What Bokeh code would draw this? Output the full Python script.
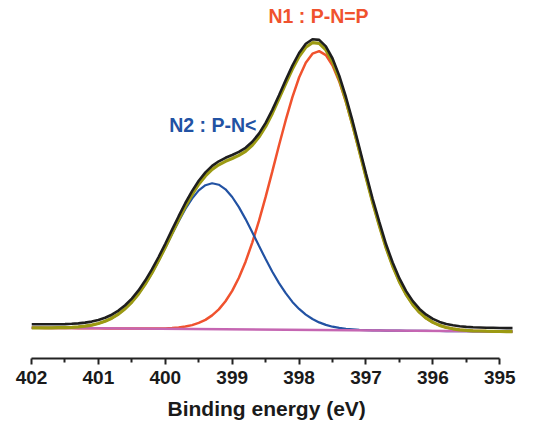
from bokeh.plotting import figure
from bokeh.models import Range1d, FixedTicker, Title
from bokeh.core.properties import value
from bokeh.embed import file_html
from bokeh.resources import INLINE

# Binding energy grid (eV)
energy = [402.0, 401.9, 401.8, 401.7, 401.6, 401.5, 401.4, 401.3, 401.2, 401.1,
          401.0, 400.9, 400.8, 400.7, 400.6, 400.5, 400.4, 400.3, 400.2, 400.1,
          400.0, 399.9, 399.8, 399.7, 399.6, 399.5, 399.4, 399.3, 399.2, 399.1,
          399.0, 398.9, 398.8, 398.7, 398.6, 398.5, 398.4, 398.3, 398.2, 398.1,
          398.0, 397.9, 397.8, 397.7, 397.6, 397.5, 397.4, 397.3, 397.2, 397.1,
          397.0, 396.9, 396.8, 396.7, 396.6, 396.5, 396.4, 396.3, 396.2, 396.1,
          396.0, 395.9, 395.8, 395.7, 395.6, 395.5, 395.4, 395.3, 395.2, 395.1,
          395.0, 394.9, 394.8]

# Measured spectrum (black)
measured = [34.2, 34.2, 34.2, 34.2, 34.3, 34.4, 34.7, 35.1, 35.9, 36.9,
            38.5, 40.7, 43.8, 47.9, 53.3, 59.9, 68.1, 77.9, 89.1, 101.5,
            114.7, 128.6, 142.3, 155.5, 167.4, 177.8, 186.1, 192.6, 197.2, 200.7,
            203.5, 206.6, 210.7, 216.7, 224.9, 235.6, 248.6, 263.3, 278.4, 292.9,
            305.5, 314.7, 319.3, 318.6, 312.1, 300.0, 282.9, 261.5, 237.3, 211.3,
            185.0, 159.5, 136.3, 114.2, 95.7, 80.1, 67.4, 57.4, 49.6, 43.8,
            39.6, 36.6, 34.5, 33.2, 32.2, 31.6, 31.2, 31.0, 30.8, 30.7,
            30.5, 30.4, 30.4]

# Fit envelope (olive)
envelope = [30.7, 30.7, 30.7, 30.7, 30.8, 30.9, 31.2, 31.6, 32.4, 33.4,
            35.0, 37.2, 40.3, 44.4, 49.8, 56.4, 64.6, 74.4, 85.6, 98.0,
            111.2, 125.1, 138.8, 152.0, 163.9, 174.3, 182.6, 189.1, 193.7, 197.2,
            200.0, 203.1, 207.2, 213.2, 221.4, 232.1, 245.1, 259.8, 274.9, 289.4,
            302.0, 311.2, 315.8, 315.1, 308.6, 296.5, 279.4, 258.0, 233.8, 207.8,
            181.5, 156.0, 132.8, 110.7, 92.2, 76.6, 63.9, 53.9, 46.1, 40.3,
            36.1, 33.1, 31.0, 29.7, 28.7, 28.1, 27.7, 27.5, 27.3, 27.2,
            27.0, 26.9, 26.9]

# N1 component : P-N=P (red)
n1 = [30.7, 30.7, 30.6, 30.5, 30.5, 30.4, 30.4, 30.3, 30.3, 30.2,
      30.2, 30.1, 30.1, 30.0, 30.0, 29.9, 29.9, 29.9, 30.0, 30.0,
      30.1, 30.5, 31.0, 32.0, 33.4, 35.6, 38.6, 43.1, 49.1, 57.2,
      67.6, 80.8, 96.8, 115.9, 137.6, 161.6, 187.1, 213.2, 238.3, 261.4,
      281.0, 295.8, 304.8, 307.4, 303.4, 293.0, 277.1, 256.6, 232.9, 207.3,
      181.2, 155.8, 132.7, 110.7, 92.2, 76.6, 63.9, 53.9, 46.1, 40.3,
      36.1, 33.1, 31.0, 29.7, 28.7, 28.1, 27.7, 27.5, 27.3, 27.2,
      27.0, 26.9, 26.9]

# N2 component : P-N< (blue)
n2 = [30.7, 30.7, 30.7, 30.7, 30.8, 30.9, 31.2, 31.6, 32.4, 33.4,
      35.0, 37.2, 40.3, 44.4, 49.8, 56.4, 64.6, 74.3, 85.4, 97.7,
      110.7, 124.2, 137.3, 149.5, 159.9, 168.1, 173.3, 175.3, 173.8, 169.2,
      161.5, 151.4, 139.4, 126.3, 112.7, 99.4, 86.8, 75.4, 65.3, 56.6,
      49.6, 43.9, 39.5, 36.1, 33.6, 31.8, 30.6, 29.6, 29.1, 28.6,
      28.4, 28.2, 28.1, 27.9, 27.8, 27.8, 27.7, 27.7, 27.6, 27.6,
      27.5, 27.5, 27.4, 27.4, 27.3, 27.3, 27.2, 27.2, 27.1, 27.1,
      27.0, 26.9, 26.9]

# Background (magenta)
bg_energy = [402.0, 394.8]
background = [30.7, 26.9]

# Peak labels
label_text = ["N1 : P-N=P", "N2 : P-N<"]
label_energy = [397.71, 399.29]
label_height = [342.5, 234.0]

tick_values = [395, 396, 397, 398, 399, 400, 401, 402]
minor_values = [395.5, 396.5, 397.5, 398.5, 399.5, 400.5, 401.5]
x_title = "Binding energy (eV)"

p = figure(width=536, height=427, output_backend="svg", toolbar_location=None,
           x_range=Range1d(402.0, 394.81), y_range=Range1d(0, 358),
           min_border_left=31, min_border_right=24, min_border_top=0,
           min_border_bottom=69)
p.outline_line_color = None
p.xgrid.visible = False
p.ygrid.visible = False
p.yaxis.visible = False
p.background_fill_color = "white"
p.border_fill_color = "white"

p.line(energy, n1, line_color="#F0522E", line_width=2.5)
p.line(energy, n2, line_color="#2252A3", line_width=2.2)
p.line(bg_energy, background, line_color="#C566B2", line_width=2.5)
p.line(energy, envelope, line_color="#9C9A12", line_width=3.2)
p.line(energy, measured, line_color="#1E1E1E", line_width=2.6)

p.text(x=[label_energy[0]], y=[label_height[0]], text=[label_text[0]],
       text_color="#F0522E", text_font=value("Liberation Sans"),
       text_font_style="bold", text_font_size="19.5px",
       text_align="center", text_baseline="middle")
p.text(x=[label_energy[1]], y=[label_height[1]], text=[label_text[1]],
       text_color="#2252A3", text_font=value("Liberation Sans"),
       text_font_style="bold", text_font_size="19.5px",
       text_align="center", text_baseline="middle")

ax = p.xaxis[0]
ax.bounds = (395, 402)
ax.ticker = FixedTicker(ticks=tick_values, minor_ticks=minor_values)
ax.axis_line_width = 2
ax.axis_line_color = "#222222"
ax.major_tick_line_width = 2
ax.major_tick_line_color = "#222222"
ax.minor_tick_line_width = 2
ax.minor_tick_line_color = "#222222"
ax.major_tick_in = 0
ax.major_tick_out = 6
ax.minor_tick_in = 0
ax.minor_tick_out = 4
ax.major_label_text_font = "Liberation Sans"
ax.major_label_text_font_style = "bold"
ax.major_label_text_font_size = "19px"
ax.major_label_text_color = "#1a1a1a"
ax.major_label_standoff = 6

# axis title, placed centred under the drawn axis span (395-402)
title = Title(text=x_title, align="left", offset=136, standoff=16,
              text_font="Liberation Sans", text_font_style="bold",
              text_font_size="21px", text_color="#1a1a1a")
p.add_layout(title, "below")

open("out.html", "w").write(file_html(p, INLINE))
